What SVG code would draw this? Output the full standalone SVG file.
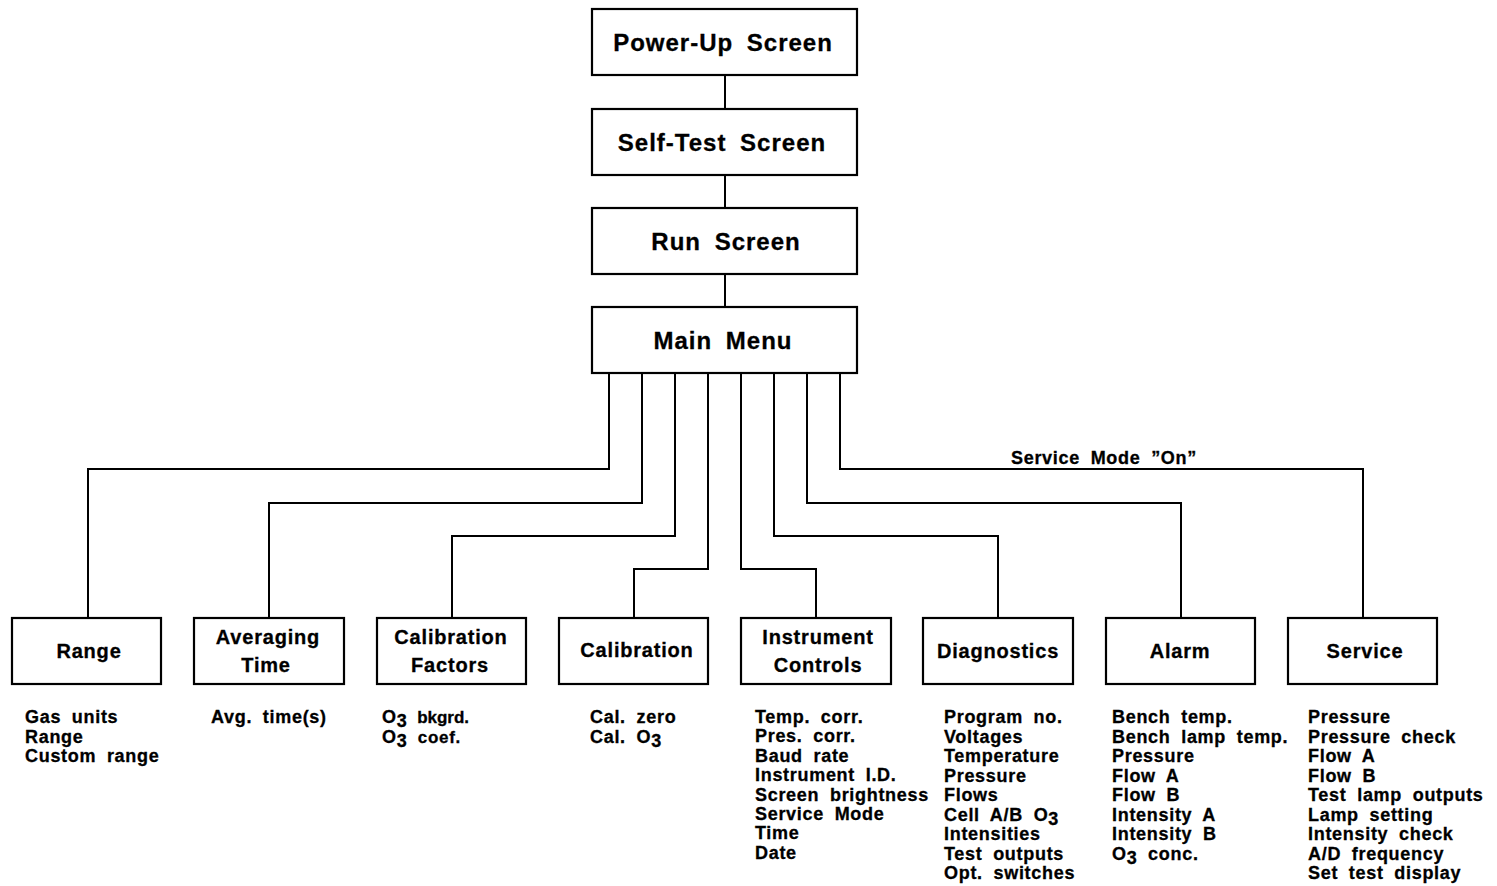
<svg xmlns="http://www.w3.org/2000/svg" width="1497" height="886" viewBox="0 0 1497 886">
<style>
.box{fill:#fff;stroke:#000;stroke-width:2.2}
.con{fill:none;stroke:#000;stroke-width:2}
.tt{font-family:"Liberation Sans",Arial,sans-serif;font-weight:bold;font-size:24px;letter-spacing:1px;word-spacing:6px;text-anchor:middle;fill:#000;stroke:#000;stroke-width:0.3}
.bt{font-family:"Liberation Sans",Arial,sans-serif;font-weight:bold;font-size:20px;letter-spacing:0.8px;word-spacing:4px;text-anchor:middle;fill:#000;stroke:#000;stroke-width:0.3}
.ls{font-family:"Liberation Sans",Arial,sans-serif;font-weight:bold;font-size:18px;letter-spacing:0.7px;word-spacing:5px;fill:#000;stroke:#000;stroke-width:0.3}
</style>
<rect width="1497" height="886" fill="#fff"/>
<g id="connectors">
<path class="con" d="M725 75V109M725 175V208M725 274V307"/>
<path class="con" d="M609 373V469H88V618"/>
<path class="con" d="M642 373V503H269V618"/>
<path class="con" d="M675 373V536H452V618"/>
<path class="con" d="M708 373V569H634V618"/>
<path class="con" d="M741 373V569H816V618"/>
<path class="con" d="M774 373V536H998V618"/>
<path class="con" d="M807 373V503H1181V618"/>
<path class="con" d="M840 373V469H1363V618"/>
<text class="ls" x="1011" y="464" word-spacing="7">Service Mode ”On”</text>
</g>
<g id="powerup"><rect class="box" x="592" y="9" width="265" height="66"/><text class="tt" x="723" y="51">Power-Up Screen</text></g>
<g id="selftest"><rect class="box" x="592" y="109" width="265" height="66"/><text class="tt" x="722" y="151">Self-Test Screen</text></g>
<g id="run"><rect class="box" x="592" y="208" width="265" height="66"/><text class="tt" x="726" y="250">Run Screen</text></g>
<g id="mainmenu"><rect class="box" x="592" y="307" width="265" height="66"/><text class="tt" x="723" y="349">Main Menu</text></g>

<g id="range"><rect class="box" x="12" y="618" width="149" height="66"/><text class="bt" x="89" y="658">Range</text>
<text class="ls" x="25"><tspan x="25" y="723">Gas units</tspan><tspan x="25" y="742.5">Range</tspan><tspan x="25" y="762">Custom range</tspan></text></g>

<g id="averaging"><rect class="box" x="194" y="618" width="150" height="66"/><text class="bt" x="268" y="644">Averaging</text><text class="bt" x="266" y="672">Time</text>
<text class="ls" x="211" y="723">Avg. time(s)</text></g>

<g id="calfactors"><rect class="box" x="377" y="618" width="149" height="66"/><text class="bt" x="451" y="644">Calibration</text><text class="bt" x="450" y="672">Factors</text>
<text class="ls" x="382" y="723" word-spacing="0">O<tspan dy="4">3</tspan><tspan dy="-4" font-size="17" letter-spacing="0"> bkgrd.</tspan></text>
<text class="ls" x="382" y="742.5" word-spacing="0">O<tspan dy="4">3</tspan><tspan dy="-4" font-size="17"> coef.</tspan></text></g>

<g id="calibration"><rect class="box" x="559" y="618" width="149" height="66"/><text class="bt" x="637" y="657">Calibration</text>
<text class="ls" x="590"><tspan x="590" y="723">Cal. zero</tspan><tspan x="590" y="742.5">Cal. O<tspan dy="4">3</tspan></tspan></text></g>

<g id="instrument"><rect class="box" x="741" y="618" width="150" height="66"/><text class="bt" x="818" y="644">Instrument</text><text class="bt" x="818" y="672">Controls</text>
<text class="ls" x="755"><tspan x="755" y="723">Temp. corr.</tspan><tspan x="755" y="742.4">Pres. corr.</tspan><tspan x="755" y="761.8">Baud rate</tspan><tspan x="755" y="781.2">Instrument I.D.</tspan><tspan x="755" y="800.6">Screen brightness</tspan><tspan x="755" y="820">Service Mode</tspan><tspan x="755" y="839.4">Time</tspan><tspan x="755" y="858.8">Date</tspan></text></g>

<g id="diagnostics"><rect class="box" x="923" y="618" width="150" height="66"/><text class="bt" x="998" y="658">Diagnostics</text>
<text class="ls" x="944"><tspan x="944" y="723">Program no.</tspan><tspan x="944" y="742.5">Voltages</tspan><tspan x="944" y="762">Temperature</tspan><tspan x="944" y="781.5">Pressure</tspan><tspan x="944" y="801">Flows</tspan><tspan x="944" y="820.5">Cell A/B O<tspan dy="4">3</tspan></tspan><tspan x="944" y="840">Intensities</tspan><tspan x="944" y="859.5">Test outputs</tspan><tspan x="944" y="879">Opt. switches</tspan></text></g>

<g id="alarm"><rect class="box" x="1106" y="618" width="149" height="66"/><text class="bt" x="1180" y="658">Alarm</text>
<text class="ls" x="1112"><tspan x="1112" y="723">Bench temp.</tspan><tspan x="1112" y="742.5">Bench lamp temp.</tspan><tspan x="1112" y="762">Pressure</tspan><tspan x="1112" y="781.5">Flow A</tspan><tspan x="1112" y="801">Flow B</tspan><tspan x="1112" y="820.5">Intensity A</tspan><tspan x="1112" y="840">Intensity B</tspan><tspan x="1112" y="859.5">O<tspan dy="4">3</tspan><tspan dy="-4"> conc.</tspan></tspan></text></g>

<g id="service"><rect class="box" x="1288" y="618" width="149" height="66"/><text class="bt" x="1365" y="658">Service</text>
<text class="ls" x="1308"><tspan x="1308" y="723">Pressure</tspan><tspan x="1308" y="742.5">Pressure check</tspan><tspan x="1308" y="762">Flow A</tspan><tspan x="1308" y="781.5">Flow B</tspan><tspan x="1308" y="801">Test lamp outputs</tspan><tspan x="1308" y="820.5">Lamp setting</tspan><tspan x="1308" y="840">Intensity check</tspan><tspan x="1308" y="859.5">A/D frequency</tspan><tspan x="1308" y="879">Set test display</tspan></text></g>
</svg>
